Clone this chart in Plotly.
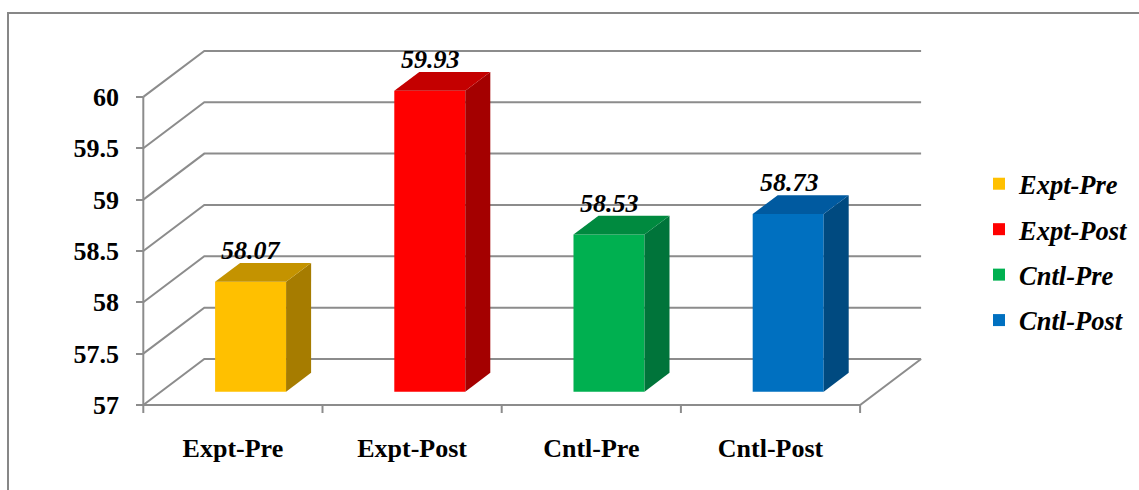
import plotly.graph_objects as go

# ---- data ----
categories = ["Expt-Pre", "Expt-Post", "Cntl-Pre", "Cntl-Post"]
values = [58.07, 59.93, 58.53, 58.73]
value_labels = ["58.07", "59.93", "58.53", "58.73"]
y_ticks = [57, 57.5, 58, 58.5, 59, 59.5, 60]
front_colors = ["#FFC000", "#FF0000", "#00B050", "#0070C0"]
top_colors = ["#C49300", "#C40000", "#008A3F", "#005AA0"]
side_colors = ["#A67C00", "#A40000", "#00743A", "#004A80"]

# ---- geometry (pixels) ----
W, H = 1139, 490
ML, MR, MT, MB = 100, 179, 30, 60
PLOT_W = W - ML - MR
PLOT_H = H - MT - MB
PX = 179.2          # px per category
PY = 102.7          # px per value unit
FRONT_X = 143.3     # pixel of front axis (x=-0.5)
FRONT_Y0 = 405      # pixel of 57 at depth 0
DX, DY = 61.0, 46.0  # full depth offset in px
F0, F1 = 0.29, 0.70  # bar front/back depth fractions
BAR_W_PX = 71.0

ymin_val = y_ticks[0]
ymax_val = y_ticks[-1]
x_range = [-0.5 + (ML - FRONT_X) / PX, -0.5 + (ML + PLOT_W - FRONT_X) / PX]
y_range = [ymin_val + (FRONT_Y0 - (MT + PLOT_H)) / PY, ymin_val + (FRONT_Y0 - MT) / PY]

ddx = DX / PX
ddy = DY / PY
bw = BAR_W_PX / PX
x_left = -0.5
x_right = len(categories) - 0.5

GRID = "#8C8C8C"
FONT = "Liberation Serif, Times New Roman, serif"
FS = 26

fig = go.Figure()

shapes = []
# back wall grid lines + left wall diagonals
for v in y_ticks:
    shapes.append(dict(type="path", xref="x", yref="y", layer="below",
                       path=f"M{x_left},{v} L{x_left+ddx},{v+ddy} L{x_right+ddx},{v+ddy}",
                       line=dict(color=GRID, width=2)))
# floor front edge and right diagonal
shapes.append(dict(type="path", xref="x", yref="y", layer="below",
                   path=f"M{x_left},{ymin_val} L{x_right},{ymin_val} L{x_right+ddx},{ymin_val+ddy}",
                   line=dict(color=GRID, width=2)))
# front vertical axis line
shapes.append(dict(type="line", xref="x", yref="y", layer="below",
                   x0=x_left, x1=x_left, y0=ymin_val, y1=ymax_val,
                   line=dict(color=GRID, width=2)))
# category boundary ticks
tick_len_val = 8 / PY
for k in range(len(categories) + 1):
    xb = x_left + k
    shapes.append(dict(type="line", xref="x", yref="y", layer="below",
                       x0=xb, x1=xb, y0=ymin_val, y1=ymin_val - tick_len_val,
                       line=dict(color=GRID, width=2)))

base0 = ymin_val + F0 * ddy
sdx = (F1 - F0) * ddx
sdy = (F1 - F0) * ddy
annotations = []
for i, (cat, v) in enumerate(zip(categories, values)):
    xc = i + F0 * ddx
    fig.add_trace(go.Bar(
        x=[xc], y=[v - ymin_val], base=[base0], width=[bw],
        name=f"<b><i>{cat}</i></b>", marker=dict(color=front_colors[i], line=dict(width=0)),
        legendgroup=cat, hoverinfo="skip"))
    xl, xr = xc - bw / 2, xc + bw / 2
    top = v + F0 * ddy
    # side face
    shapes.append(dict(type="path", xref="x", yref="y", layer="above",
                       path=f"M{xr},{base0} L{xr},{top} L{xr+sdx},{top+sdy} L{xr+sdx},{base0+sdy} Z",
                       fillcolor=side_colors[i], line=dict(width=0)))
    # top face
    shapes.append(dict(type="path", xref="x", yref="y", layer="above",
                       path=f"M{xl},{top} L{xr},{top} L{xr+sdx},{top+sdy} L{xl+sdx},{top+sdy} Z",
                       fillcolor=top_colors[i], line=dict(width=0)))
    annotations.append(dict(x=xc + 0.005, y=top + sdy - 4 / PY, xref="x", yref="y",
                            text=f"<b><i>{value_labels[i]}</i></b>", showarrow=False,
                            yanchor="bottom", xanchor="center",
                            font=dict(family=FONT, size=FS, color="black")))


def px_to_paper_x(p):
    return (p - ML) / PLOT_W


def px_to_paper_y(p):
    return (MT + PLOT_H - p) / PLOT_H


# outer border
shapes.append(dict(type="rect", xref="paper", yref="paper", layer="below",
                   x0=px_to_paper_x(8), x1=px_to_paper_x(W + 20),
                   y0=px_to_paper_y(H + 20), y1=px_to_paper_y(13),
                   line=dict(color="#878787", width=2), fillcolor="rgba(0,0,0,0)"))

fig.update_layout(
    width=W, height=H,
    margin=dict(l=ML, r=MR, t=MT, b=MB, autoexpand=False),
    paper_bgcolor="white", plot_bgcolor="white",
    barmode="overlay",
    shapes=shapes,
    annotations=annotations,
    showlegend=True,
    legend=dict(x=px_to_paper_x(979), y=px_to_paper_y(160), xanchor="left", yanchor="top",
                font=dict(family=FONT, size=26.5, color="black"),
                traceorder="grouped", tracegroupgap=8, itemwidth=30,
                bgcolor="rgba(0,0,0,0)"),
    xaxis=dict(range=x_range, tickvals=list(range(len(categories))),
               ticktext=[f"<b>{c}</b>" for c in categories],
               showgrid=False, zeroline=False, showline=False, ticks="",
               tickfont=dict(family=FONT, size=FS, color="black"),
               ticklabelstandoff=0, fixedrange=True),
    yaxis=dict(range=y_range, tickvals=y_ticks,
               ticktext=[f"<b>{t:g}</b>" for t in y_ticks],
               showgrid=False, zeroline=False, showline=False,
               ticks="outside", ticklen=7, tickwidth=2, tickcolor=GRID,
               anchor="free", position=px_to_paper_x(FRONT_X),
               tickfont=dict(family=FONT, size=FS, color="black"),
               ticklabelstandoff=12, fixedrange=True),
)

fig.write_html("out.html")
